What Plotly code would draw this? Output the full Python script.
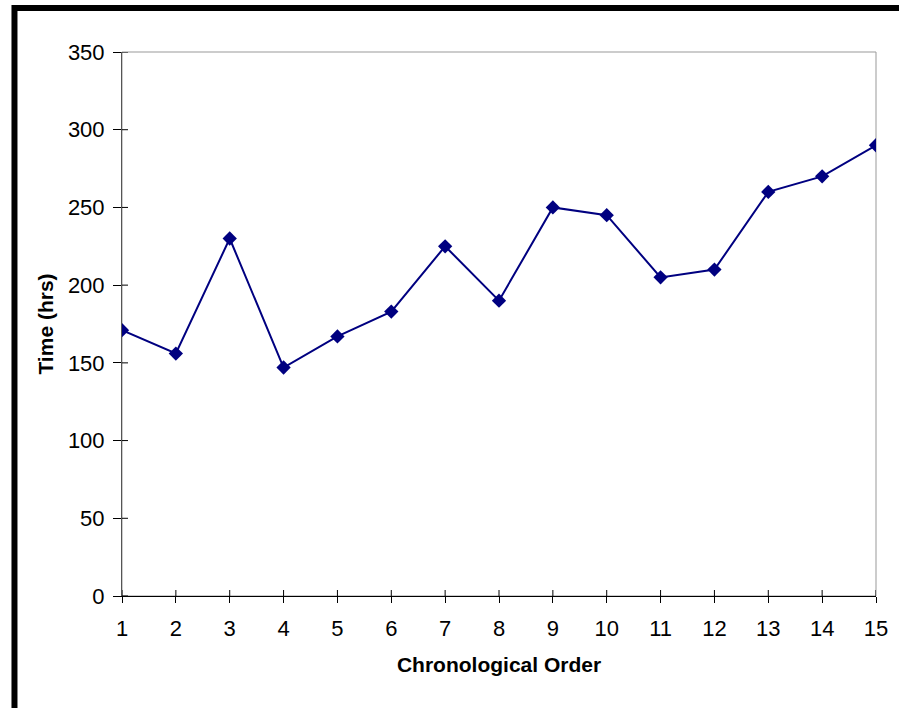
import plotly.graph_objects as go

# Build time (hours) for each unit in chronological order
order = list(range(1, 16))
hours = [171, 156, 230, 147, 167, 183, 225, 190, 250, 245, 205, 210, 260, 270, 290]

y_ticks = [0, 50, 100, 150, 200, 250, 300, 350]

FONT = "Liberation Sans, Arial, sans-serif"
NAVY = "#000080"

fig = go.Figure()

fig.add_trace(go.Scatter(
    x=order, y=hours, mode="lines+markers",
    line=dict(color=NAVY, width=2),
    marker=dict(symbol="diamond", size=11, color=NAVY),
    showlegend=False, hoverinfo="x+y",
))

axis_font = dict(family=FONT, size=22, color="#000")
title_font = dict(family=FONT, size=21, color="#000")

shapes = [
    # plot-area frame (top and right edges show in grey)
    dict(type="rect", xref="paper", yref="paper", x0=0, x1=1, y0=0, y1=1,
         line=dict(color="#999", width=1), layer="below"),
    # heavy chart border along the top and left of the page
    dict(type="rect", xref="paper", yref="paper",
         x0=-0.1426, x1=1.1, y0=1.081, y1=-0.25,
         line=dict(color="#000", width=6), layer="below"),
]

# cross-style tick marks: the axis ticks give the outer half, these the inner half
for v in order:
    shapes.append(dict(type="line", xref="x", yref="y", ysizemode="pixel", yanchor=0,
                       x0=v, x1=v, y0=0, y1=6, line=dict(color="#000", width=1)))
for v in y_ticks:
    shapes.append(dict(type="line", xref="x", yref="y", xsizemode="pixel", xanchor=1,
                       x0=0, x1=6, y0=v, y1=v, line=dict(color="#000", width=1)))

fig.update_layout(
    width=899, height=708,
    margin=dict(l=122, r=23, t=52, b=112),
    paper_bgcolor="white", plot_bgcolor="white",
    xaxis=dict(
        range=[1, 15], tickmode="array", tickvals=order,
        ticktext=[str(v) for v in order],
        ticks="outside", ticklen=6, tickcolor="#000", tickwidth=1,
        ticklabelstandoff=7,
        showline=True, linecolor="#000", linewidth=1,
        showgrid=False, zeroline=False,
        tickfont=axis_font,
        title=dict(text="<b>Chronological Order</b>", font=title_font, standoff=16),
    ),
    yaxis=dict(
        range=[0, 350], tickmode="array", tickvals=y_ticks,
        ticks="outside", ticklen=8, tickcolor="#000", tickwidth=1,
        ticklabelstandoff=4,
        showline=True, linecolor="#555", linewidth=1,
        showgrid=False, zeroline=False,
        tickfont=axis_font,
        title=dict(text="<b>Time (hrs)</b>", font=title_font, standoff=8),
    ),
    shapes=shapes,
)

fig.write_html("out.html")
